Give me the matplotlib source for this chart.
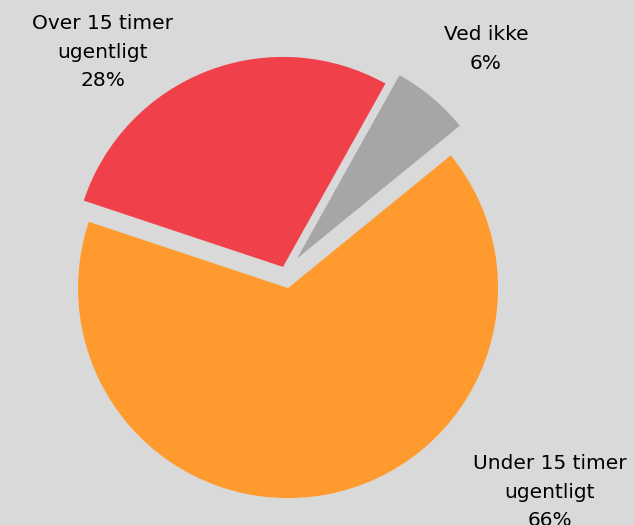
import numpy as np
import matplotlib.pyplot as plt

# data
labels = ['Ved ikke', 'Over 15 timer\nugentligt', 'Under 15 timer\nugentligt']
values = [6, 28, 66]
colors = ['#A6A6A6', '#F0404A', '#FF9A2E']
explode = [0.088, 0.029, 0.075]

bg = '#D9D9D9'
fig = plt.figure(figsize=(6.34, 5.25), dpi=100, facecolor=bg)
ax = fig.add_axes([0, 0, 1, 1])
ax.set_facecolor(bg)

wedges, _ = ax.pie(values, colors=colors, explode=explode, startangle=39.2,
                   counterclock=True, radius=1.0,
                   wedgeprops=dict(linewidth=0))

# pie centre sits at (285, 273) px from top-left, 1 unit = 210 px
cx, cy, R = 285.2, 272.6, 210.0
label_px = [(486, 49), (102.5, 52), (550, 492)]
for lab, v, (px, py) in zip(labels, values, label_px):
    ax.text((px - cx) / R, (cy - py) / R, f'{lab}\n{v}%', ha='center', va='center',
            fontsize=14.5, linespacing=1.62, color='black')

ax.set_xlim(-cx / R, (634 - cx) / R)
ax.set_ylim(-(525 - cy) / R, cy / R)
ax.set_aspect('equal')
ax.axis('off')

fig.savefig('out.png', dpi=100, facecolor=bg)
